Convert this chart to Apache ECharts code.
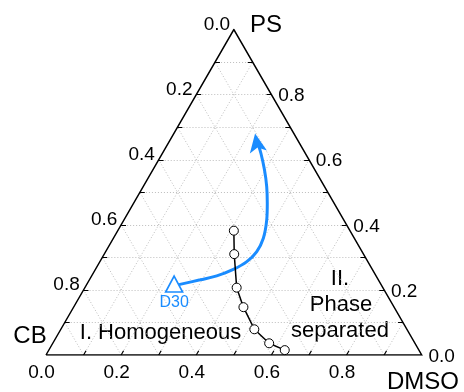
<!DOCTYPE html>
<html><head><meta charset="utf-8">
<script src="https://cdn.jsdelivr.net/npm/echarts@6/dist/echarts.min.js"></script>
<style>html,body{margin:0;padding:0;background:#fff}#c{width:464px;height:392px}</style>
</head><body><div id="c"></div>
<script>
// ---- data (ternary fractions: PS, DMSO; CB = 1 - PS - DMSO) ----
const tickValues = [0, 0.2, 0.4, 0.6, 0.8];
const tickLabels = ['0.0', '0.2', '0.4', '0.6', '0.8'];
const tickSteps = [0.1, 0.2, 0.3, 0.4, 0.5, 0.6, 0.7, 0.8, 0.9];
const gridSteps = [0.1, 0.2, 0.3, 0.4, 0.5, 0.6, 0.7, 0.8, 0.9];
const binodalPS   = [0.382, 0.310, 0.207, 0.147, 0.079, 0.036, 0.015];
const binodalDMSO = [0.309, 0.346, 0.404, 0.452, 0.515, 0.576, 0.628];
const pathPS   = [0.217, 0.231, 0.243, 0.263, 0.287, 0.318, 0.359, 0.415, 0.466, 0.517, 0.569, 0.620, 0.650];
const pathDMSO = [0.248, 0.295, 0.333, 0.367, 0.391, 0.402, 0.399, 0.380, 0.356, 0.329, 0.297, 0.262, 0.239];
const d30PS = [0.218];
const d30DMSO = [0.232];
const arrowTipPS = [0.681];
const arrowTipDMSO = [0.216];

const S3 = Math.sqrt(3) / 2;
function xy(ps, dmso) { return [dmso + ps / 2, ps * S3]; }

const BLUE = '#1a8cff';
const FONT = 'Liberation Sans, Arial, Helvetica, sans-serif';
const L = 0.013;

const gridLines = [];
gridSteps.forEach(t => {
  gridLines.push({ coords: [xy(t, 0), xy(t, 1 - t)] });       // constant PS
  gridLines.push({ coords: [xy(0, t), xy(1 - t, t)] });       // constant DMSO
  gridLines.push({ coords: [xy(0, 1 - t), xy(1 - t, 0)] });   // constant CB
});
const ticks = [];
tickSteps.forEach(t => {
  ticks.push({ coords: [xy(1 - t, 0), xy(1 - t, L)] });         // left (CB)
  ticks.push({ coords: [xy(t, 1 - t), xy(t, 1 - t - L)] });     // right (PS)
  ticks.push({ coords: [xy(0, t), xy(L, t)] });                 // bottom (DMSO)
});

function labelSeries(points, dx, dy) {
  return {
    type: 'custom', z: 8, silent: true,
    data: points,
    renderItem: function (params, api) {
      const p = api.coord([api.value(0), api.value(1)]);
      return { type: 'text', x: p[0] + dx, y: p[1] + dy,
        style: { text: tickLabels[api.value(2)], fill: '#000', font: '19px ' + FONT,
          align: 'center', verticalAlign: 'middle', textAlign: 'center', textVerticalAlign: 'middle' } };
    }
  };
}
const leftLbl = tickValues.map((v, i) => xy(1 - v, 0).concat([i]));
const rightLbl = tickValues.map((v, i) => xy(v, 1 - v).concat([i]));
const bottomLbl = tickValues.map((v, i) => xy(0, v).concat([i]));

function txt(x, y, text, size) {
  return { type: 'text', x: x, y: y, style: { text: text, font: size + 'px ' + FONT, fill: '#000',
    align: 'center', verticalAlign: 'middle', textAlign: 'center', textVerticalAlign: 'middle' } };
}

const chart = echarts.init(document.getElementById('c'), null, { renderer: 'canvas' });
chart.setOption({
  animation: false,
  backgroundColor: '#fff',
  grid: { left: 46, right: 42.3, top: 29.6, bottom: 37 },
  xAxis: { type: 'value', min: 0, max: 1, show: false },
  yAxis: { type: 'value', min: 0, max: S3, show: false },
  graphic: [
    txt(30, 336, 'CB', 24),
    txt(266, 25, 'PS', 24),
    txt(423, 382, 'DMSO', 24),
    txt(160.5, 332.5, 'I. Homogeneous', 22),
    txt(340, 279, 'II.', 22),
    txt(341, 305, 'Phase', 22),
    txt(340, 331, 'separated', 22)
  ],
  series: [
    { type: 'lines', coordinateSystem: 'cartesian2d', silent: true, z: 1, data: gridLines,
      lineStyle: { color: '#bdbdbd', width: 1, type: [1, 2], opacity: 1 } },
    { type: 'lines', coordinateSystem: 'cartesian2d', silent: true, z: 3, data: ticks,
      lineStyle: { color: '#000', width: 1.2, opacity: 1 } },
    { type: 'lines', coordinateSystem: 'cartesian2d', polyline: true, silent: true, z: 3,
      data: [{ coords: [xy(0, 0), xy(0, 1), xy(1, 0), xy(0, 0)] }],
      lineStyle: { color: '#000', width: 1.5, opacity: 1, join: 'miter' } },
    labelSeries(leftLbl, -17, -5),
    labelSeries(rightLbl, 20, 1.5),
    labelSeries(bottomLbl, -4.5, 18),
    { type: 'line', z: 4, smooth: 0.35, symbol: 'none', silent: true,
      data: pathPS.map((p, i) => xy(p, pathDMSO[i])),
      lineStyle: { color: BLUE, width: 3, cap: 'round' } },
    { type: 'scatter', z: 5, silent: true, symbol: 'arrow', symbolSize: [13, 19], symbolRotate: 10,
      data: arrowTipPS.map((p, i) => xy(p, arrowTipDMSO[i])),
      itemStyle: { color: BLUE, opacity: 1 } },
    { type: 'line', z: 6, silent: true, symbol: 'circle', symbolSize: 9, showSymbol: true,
      data: binodalPS.map((p, i) => xy(p, binodalDMSO[i])),
      itemStyle: { color: '#fff', borderColor: '#000', borderWidth: 1 },
      lineStyle: { color: '#000', width: 1.5 } },
    { type: 'scatter', z: 7, silent: true, symbol: 'triangle', symbolSize: [17, 16],
      data: d30PS.map((p, i) => xy(p, d30DMSO[i])),
      itemStyle: { color: '#fff', borderColor: BLUE, borderWidth: 1.6, opacity: 1 },
      label: { show: true, position: 'bottom', distance: 2, formatter: 'D30', color: BLUE, fontSize: 16, fontFamily: FONT } }
  ]
});
</script>
</body></html>
